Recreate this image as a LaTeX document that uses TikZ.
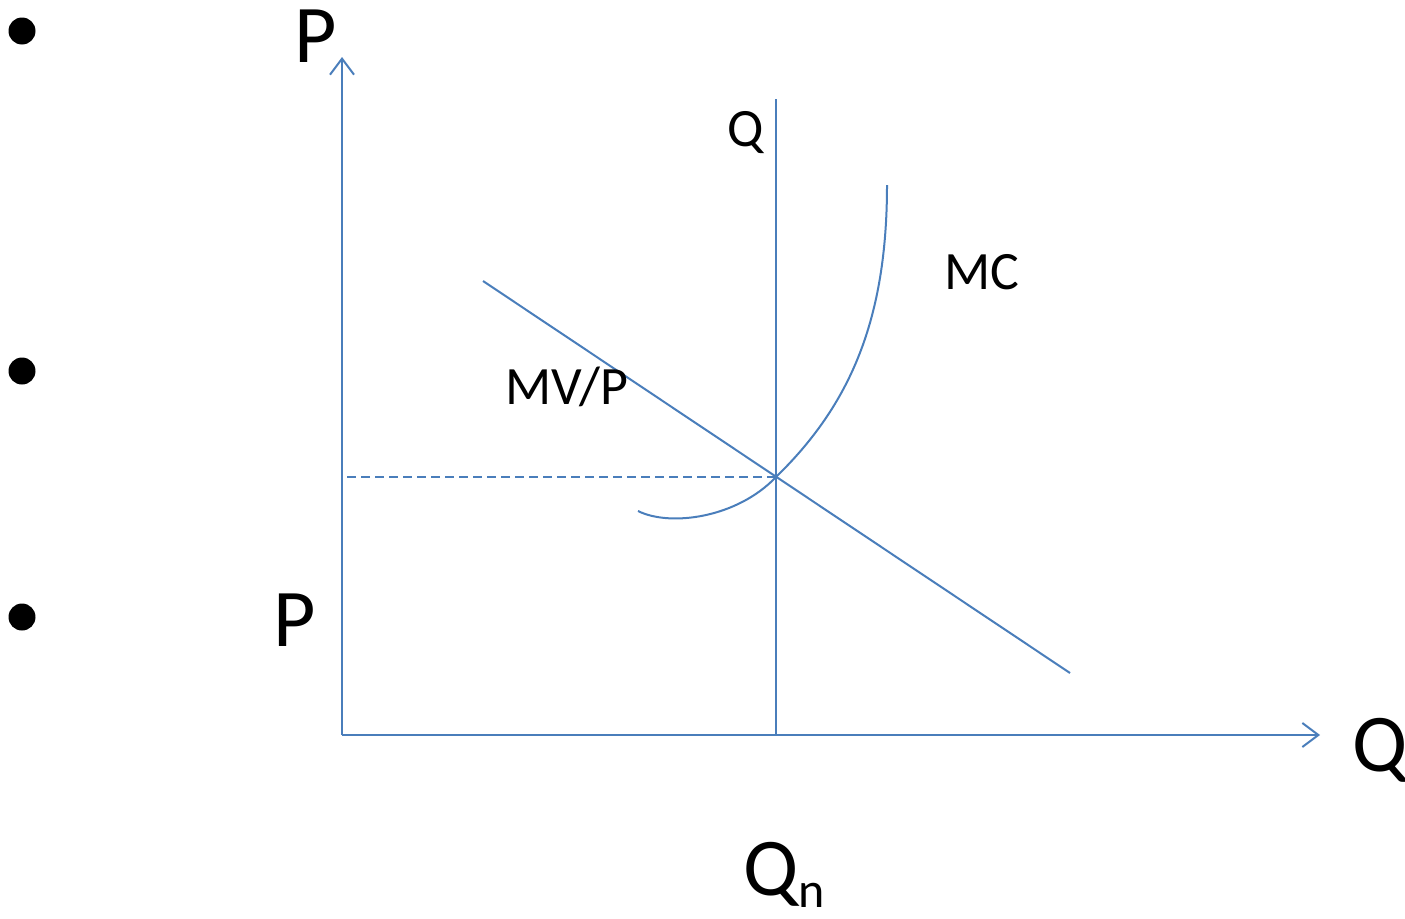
\documentclass[tikz,border=0pt]{standalone}
\usepackage{fontspec}
\setmainfont{Carlito}
\usetikzlibrary{arrows.meta}
\definecolor{ln}{HTML}{4A7EBB}
\begin{document}
\begin{tikzpicture}[x=1pt,y=-1pt,
  curve/.style={draw=ln,line width=2},
  tip/.style={-{Straight Barb[length=16,width=24,line width=2]}},
  big/.style={font=\fontsize{82}{90}\selectfont,inner sep=0,anchor=base west},
  small/.style={font=\fontsize{54}{60}\selectfont,inner sep=0,anchor=base west},
  dot/.style={fill=black,circle,minimum size=27,inner sep=0}]
\useasboundingbox (0,0) rectangle (1405,918);
% bullets
\node[dot] (b1) at (22,31) {};
\node[dot] (b2) at (22,371) {};
\node[dot] (b3) at (22,617) {};
% axes
\coordinate (O) at (342,735);
\coordinate (Ptop) at (342,57);
\coordinate (Qend) at (1320,735);
\draw[curve,tip] (O) -- (Ptop);
\draw[curve,tip] (O) -- (Qend);
% vertical Qn line
\coordinate (Vt) at (776,99);
\coordinate (Vb) at (776,735);
\draw[curve] (Vb) -- (Vt);
% MV/P line
\coordinate (D1) at (483,281);
\coordinate (D2) at (1070,673);
\draw[curve] (D1) -- (D2);
% dashed
\coordinate (E) at (776,477);
\coordinate (Pl) at (347,477);
\draw[curve,dash pattern=on 9 off 5] (Pl) -- (E);
% MC
\coordinate (M0) at (638,511);
\coordinate (M2) at (887,185);
\draw[curve] (M0) .. controls (670,527) and (737,518) .. (E)
  .. controls (850,405) and (887,320) .. (M2);
% labels
\node[big] (lP1) at (294,62) {P};
\node[big] (lP2) at (273,646) {P};
\node[big] (lQ) at (1352,771) {Q};
\node[big] (lQn) at (743,895) {Q};
\node[font=\fontsize{50}{56}\selectfont,inner sep=0,anchor=base west] (ln) at (lQn.base east) [yshift=-12] {n};
\node[small] (lq) at (727,146) {Q};
\node[small] (lMC) at (944,289) {MC};
\node[small] (lMV) at (505,404) {MV/P};
\end{tikzpicture}
\end{document}
